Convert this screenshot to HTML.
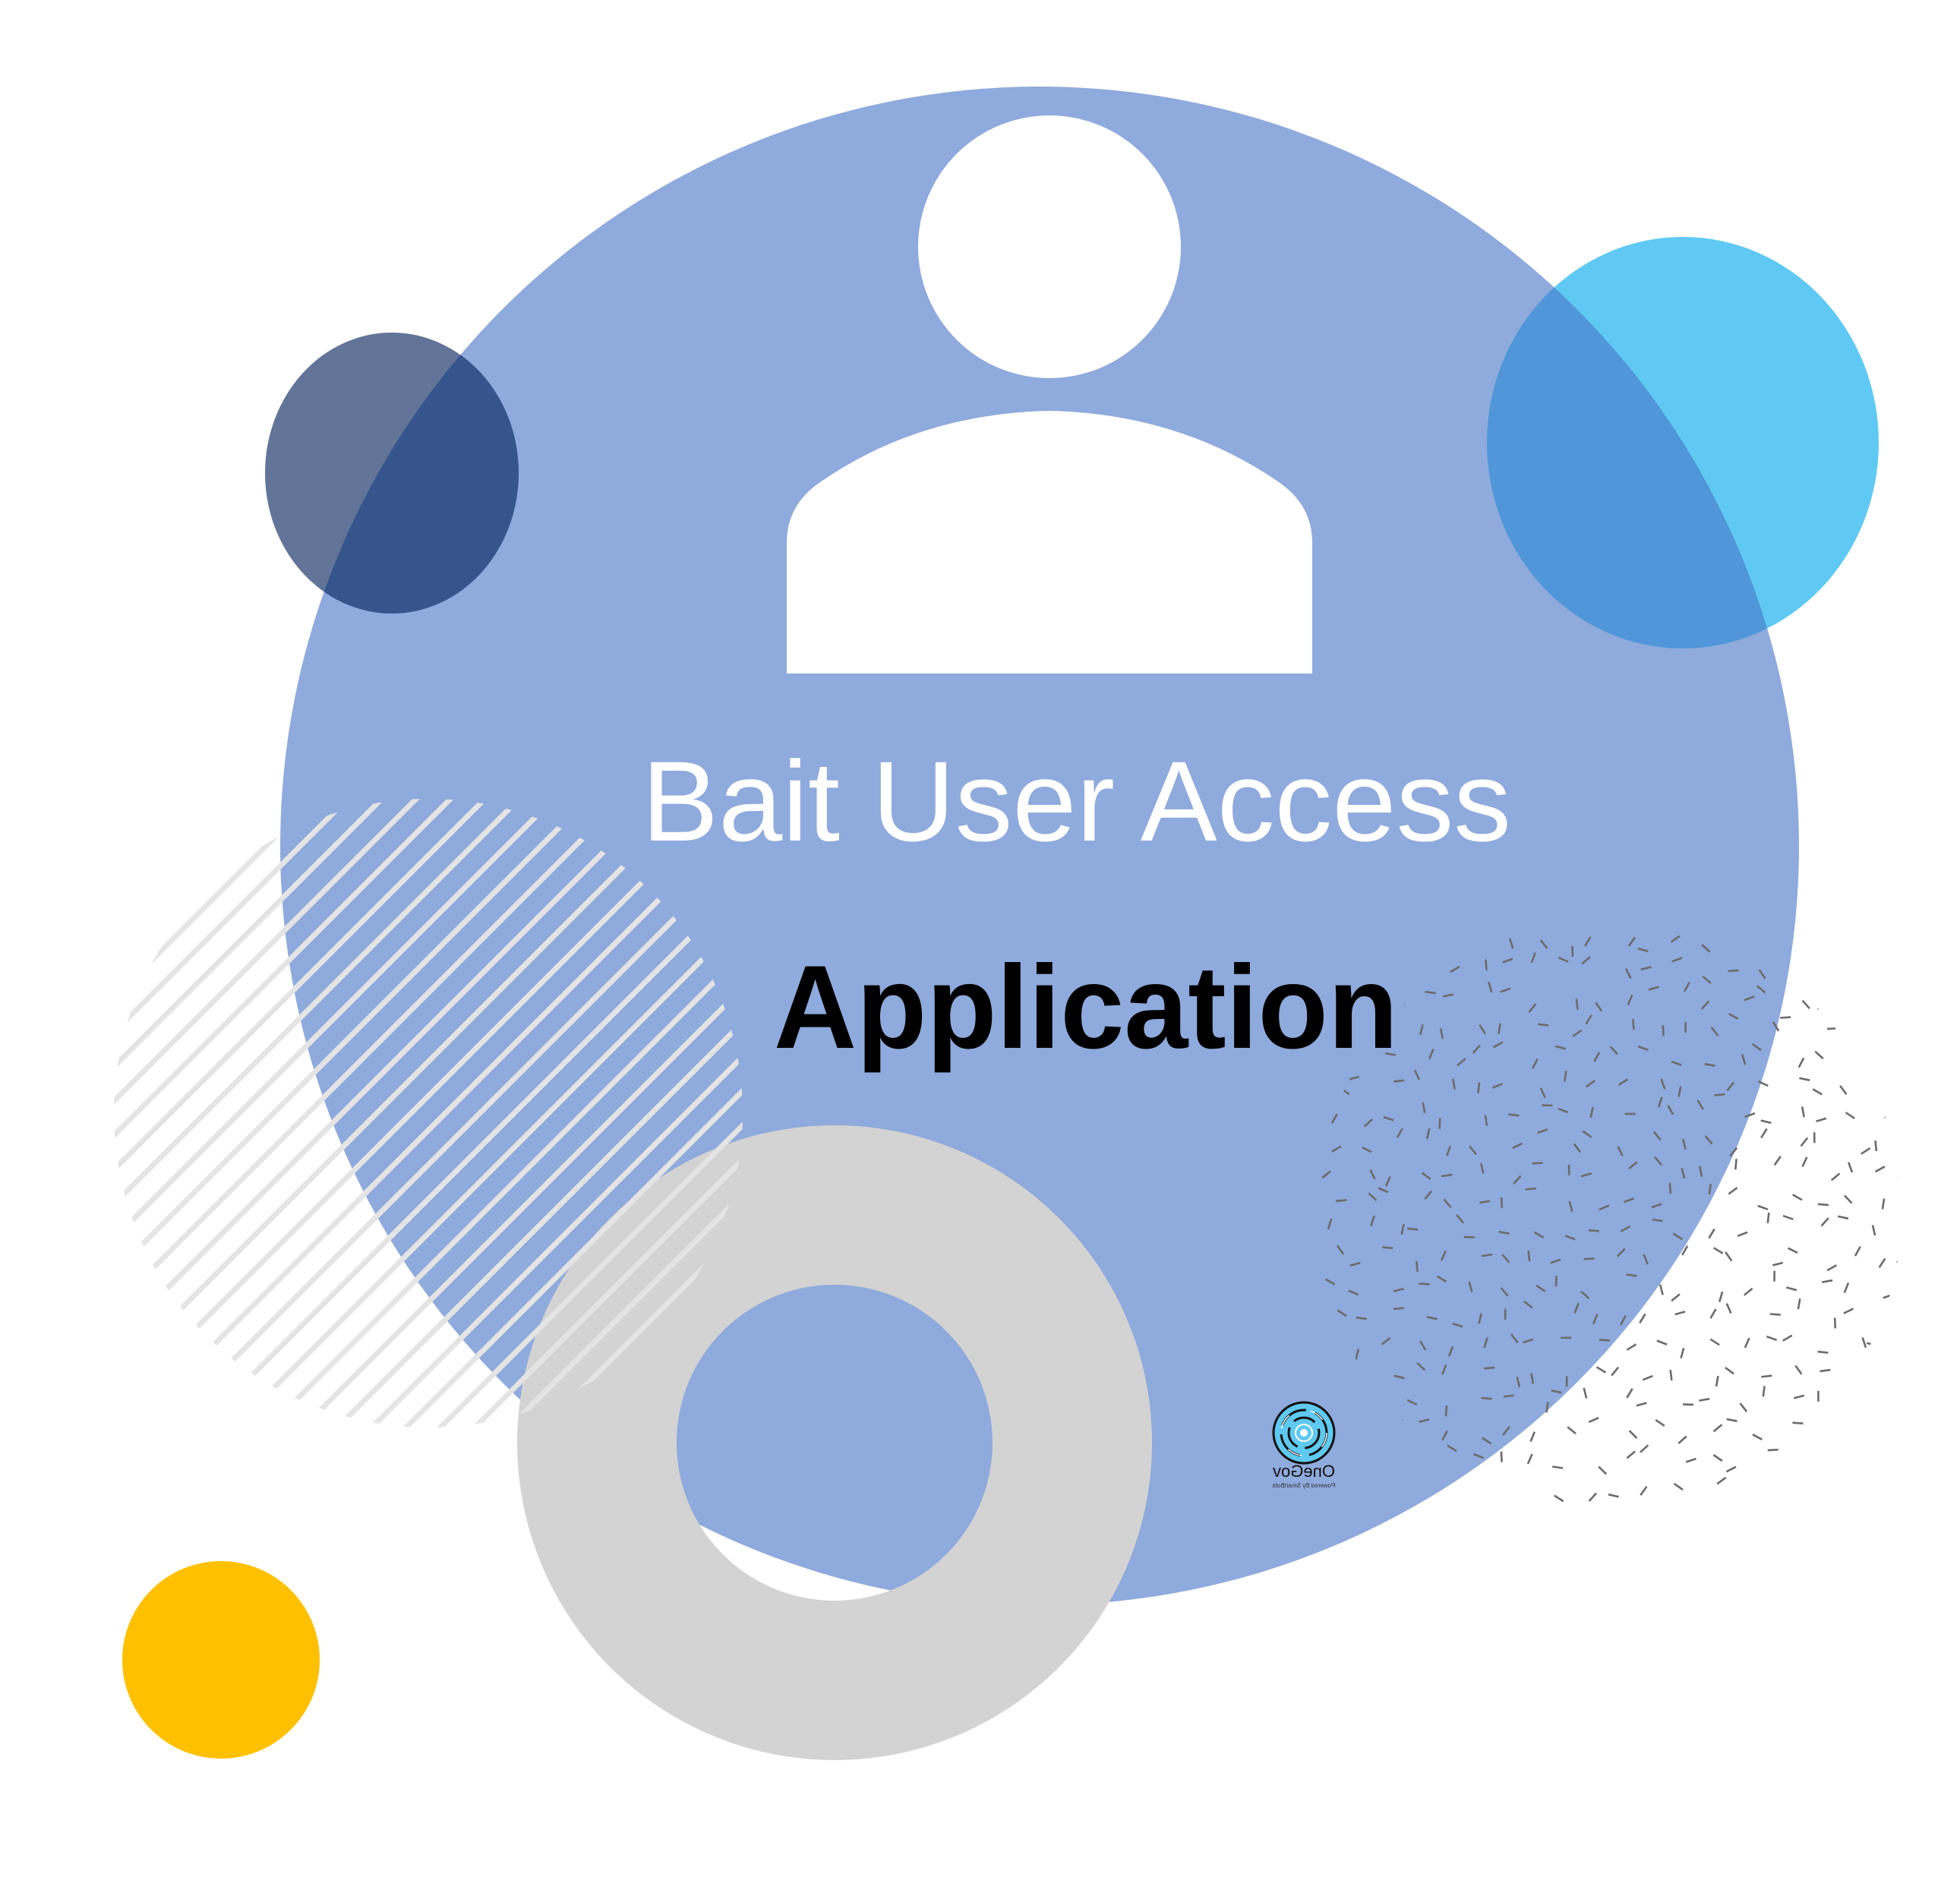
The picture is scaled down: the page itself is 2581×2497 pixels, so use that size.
<!DOCTYPE html>
<html><head><meta charset="utf-8">
<style>
html,body{margin:0;padding:0;background:#fff;}
svg{display:block;}
</style></head>
<body>
<svg id="s" width="2581" height="2497" viewBox="0 0 2581 2497" xmlns="http://www.w3.org/2000/svg">
<defs>
  <clipPath id="hc"><circle cx="564" cy="1466" r="414"/></clipPath>
  <clipPath id="dc"><circle cx="2119" cy="1598" r="385"/></clipPath>
  <clipPath id="bc"><circle cx="1369" cy="1114" r="1000"/></clipPath>
</defs>
<rect width="2581" height="2497" fill="#fff"/>
<circle cx="1369" cy="1114" r="1000" fill="#8faadc"/>
<ellipse cx="516" cy="623" rx="167" ry="185" fill="#627598"/>
<ellipse cx="516" cy="623" rx="167" ry="185" fill="#36558d" clip-path="url(#bc)"/>
<ellipse cx="2216" cy="583" rx="258" ry="271" fill="#5fc9f3"/>
<ellipse cx="2216" cy="583" rx="258" ry="271" fill="#5096d8" clip-path="url(#bc)"/>
<circle cx="1382" cy="325" r="173" fill="#fff"/>
<path d="M1036 887 L1036 715 Q1036 665 1080 635 Q1210 545 1382 541 Q1554 545 1684 635 Q1728 665 1728 715 L1728 887 Z" fill="#fff"/>
<text x="845" y="1107" font-family="'Liberation Sans',sans-serif" font-size="150" fill="#fff" textLength="1145" lengthAdjust="spacingAndGlyphs">Bait User Access</text>
<text x="1019" y="1380" font-family="'Liberation Sans',sans-serif" font-weight="bold" font-size="156" fill="#000" textLength="822" lengthAdjust="spacingAndGlyphs">Application</text>
<g id="dashes" clip-path="url(#dc)" stroke="#6b6b6b" stroke-width="2.6"></g>
<path fill="#d3d3d3" fill-rule="evenodd" d="M1099 1482 a418 418 0 1 0 0.1 0 Z M1099 1692 a208 208 0 1 1 -0.1 0 Z"/>
<g id="hatch" clip-path="url(#hc)" stroke="#e4e4e4" stroke-width="7"></g>
<circle cx="291" cy="2186" r="130" fill="#ffc000"/>
<g transform="translate(1717,1887)">
  <circle r="40" fill="#5fc9f0" stroke="#111" stroke-width="3"/>
  <circle r="30" fill="none" stroke="#111" stroke-width="3" stroke-dasharray="40 12"/>
  <circle r="30" fill="none" stroke="#fff" stroke-width="1.5" stroke-dasharray="20 30"/>
  <circle r="20" fill="none" stroke="#111" stroke-width="3" stroke-dasharray="30 10"/>
  <circle r="11" fill="none" stroke="#fff" stroke-width="2"/>
  <circle r="5" fill="#fff"/>
  <text x="0" y="58" text-anchor="middle" font-family="'Liberation Sans',sans-serif" font-size="22" fill="#111" transform="scale(-1,1)">OneGov</text>
  <text x="0" y="72" text-anchor="middle" font-family="'Liberation Sans',sans-serif" font-size="8" fill="#333" transform="scale(-1,1)">Powered By SmartBots</text>
</g>
</svg>
<script>
(function(){
  var NS="http://www.w3.org/2000/svg";
  var h=document.getElementById("hatch");
  for(var k=-1200;k<1200;k+=32){
    var l=document.createElementNS(NS,"line");
    var c=564+1466+k*Math.SQRT2;
    l.setAttribute("x1",c-2400);l.setAttribute("y1",2400);
    l.setAttribute("x2",c);l.setAttribute("y2",0);
    h.appendChild(l);
  }
  var d=document.getElementById("dashes");
  var seed=12345;
  function r(){seed=(seed*1103515245+12345)%2147483648;return seed/2147483648;}
  for(var y=1200;y<2000;y+=38){
    for(var x=1720;x<2520;x+=38){
      var px=x+(r()-0.5)*30, py=y+(r()-0.5)*30;
      var a=r()*Math.PI, L=7;
      var ln=document.createElementNS(NS,"line");
      ln.setAttribute("x1",(px-Math.cos(a)*L).toFixed(1));
      ln.setAttribute("y1",(py-Math.sin(a)*L).toFixed(1));
      ln.setAttribute("x2",(px+Math.cos(a)*L).toFixed(1));
      ln.setAttribute("y2",(py+Math.sin(a)*L).toFixed(1));
      d.appendChild(ln);
    }
  }
})();
</script>
</body></html>
